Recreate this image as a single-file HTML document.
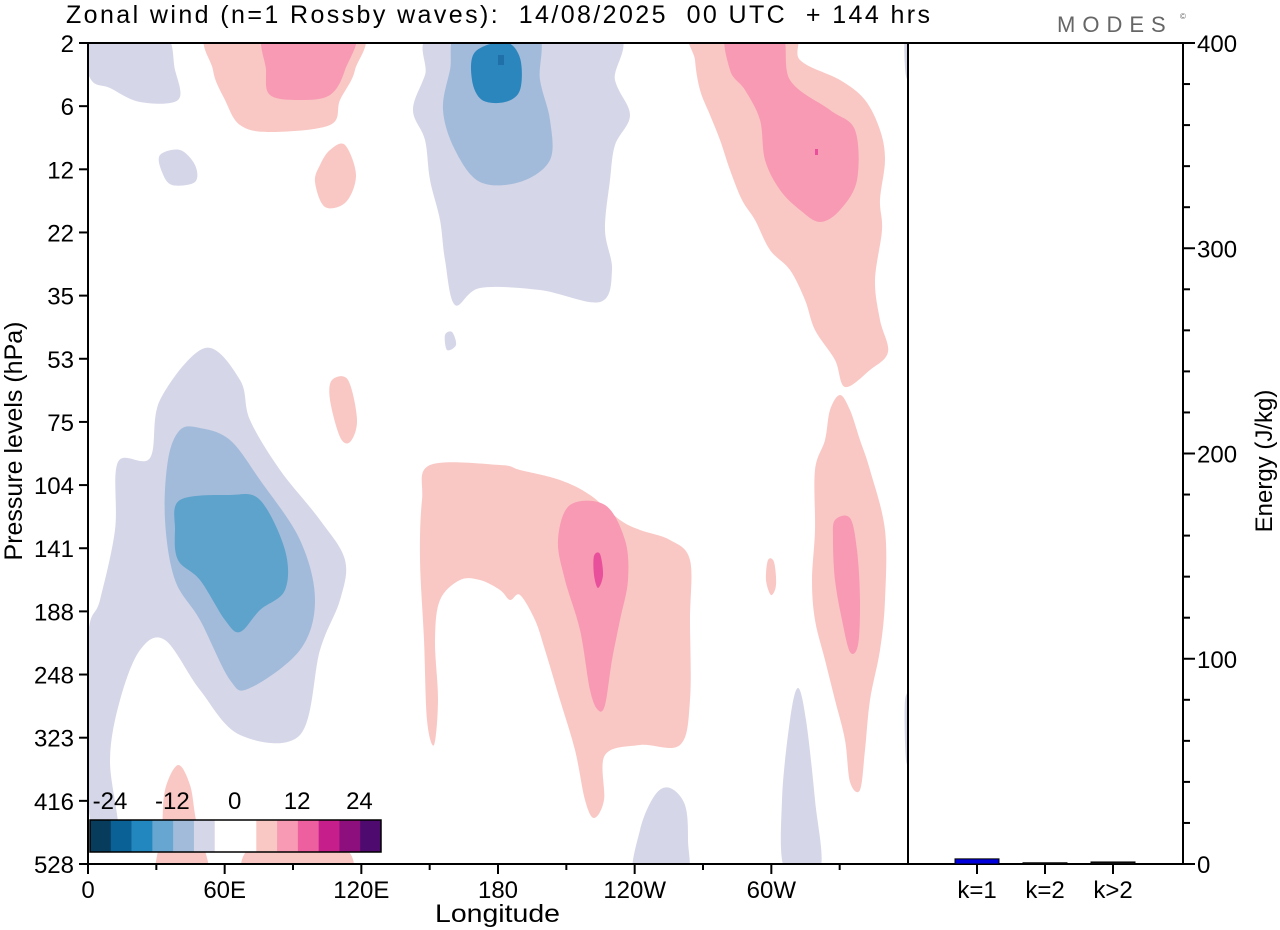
<!DOCTYPE html>
<html><head><meta charset="utf-8"><style>
body{margin:0;background:#fff;}
svg{display:block;font-family:"Liberation Sans",Arial,sans-serif;}
text{white-space:pre;}
</style></head><body>
<svg id="chart" width="1280" height="930" viewBox="0 0 1280 930">
<text x="66" y="23" font-size="25" textLength="864" lengthAdjust="spacing">Zonal wind (n=1 Rossby waves):  14/08/2025  00 UTC  + 144 hrs</text>
<text x="1057" y="32" font-size="22" fill="#666" letter-spacing="7">MODES</text>
<text x="1180" y="19" font-size="8" fill="#666">©</text>
<clipPath id="pc"><rect x="88" y="43" width="820" height="821"/></clipPath>
<g id="contours" clip-path="url(#pc)"></g>
<g id="axes"></g>
<g id="legend"></g>
<g id="bars"></g>
</svg>
<script>
const levels=["2","6","12","22","35","53","75","104","141","188","248","323","416","528"];
const lonTicks=[0,60,120,180,240,300];
const lonLabels=["0","60E","120E","180","120W","60W"];
const energyTicks=[0,100,200,300,400];
const barCats=["k=1","k=2","k>2"];
const barValues=[2.5,0.6,1.0];
const barColors=["#0000dd","#111","#111"];
const legendColors=["#083c5c","#0a6196","#2387bf","#66a6d0","#a2bbda","#d5d6e8","#ffffff","#ffffff","#f9c8c4","#f89ab4","#ee5fa0","#c61f8c","#8d0f7d","#4e0a6e"];
const legendLabels=["-24","-12","0","12","24"];

const X0=88,X1=908,Y0=43,Y1=864,EX0=908,EX1=1183;
const xLon=l=>X0+l*(X1-X0)/360;
const yLev=i=>Y0+i*(Y1-Y0)/13;
const yE=v=>Y1-v*(Y1-Y0)/400;
const NS="http://www.w3.org/2000/svg";
function mk(tag,attrs,parent,text){const e=document.createElementNS(NS,tag);for(const k in attrs)e.setAttribute(k,attrs[k]);if(text!==undefined)e.textContent=text;parent.appendChild(e);return e;}

const L1="#d5d6e8",L2="#a2bbda",L3="#5ea3cb",L4="#2b86bd",P1="#f9c8c4",P2="#f89ab4",P3="#e8509b";
const blobs=[
[L1,[[88,640],[100,600],[115,530],[118,462],[150,458],[160,400],[205,348],[240,380],[250,420],[280,470],[320,520],[345,560],[340,600],[320,650],[300,735],[240,735],[200,690],[165,640],[140,650],[120,700],[110,760],[118,830],[100,835],[88,800]]],
[L2,[[180,430],[200,428],[230,440],[260,480],[300,540],[315,600],[300,650],[250,688],[230,680],[200,620],[175,580],[165,520],[168,460]]],
[L3,[[180,500],[230,495],[260,500],[285,550],[285,590],[260,610],[240,632],[225,620],[200,580],[178,560],[175,530]]],
[L1,[[160,155],[180,150],[195,165],[195,182],[172,185],[162,172]]],
[L1,[[80,30],[160,30],[175,70],[178,100],[140,102],[110,88],[90,78]]],
[L1,[[905,30],[915,30],[915,80],[906,76]]],
[L1,[[440,30],[610,30],[615,80],[630,115],[615,145],[610,180],[605,230],[612,270],[600,302],[540,290],[480,288],[455,305],[445,260],[440,220],[430,180],[425,140],[413,110],[425,75]]],
[L2,[[460,30],[535,30],[540,80],[550,120],[550,160],[520,182],[480,182],[455,150],[443,110],[450,70]]],
[L4,[[475,52],[505,42],[520,58],[520,90],[505,102],[482,100],[472,80]]],
[L1,[[445,335],[452,332],[456,345],[447,350]]],
[P1,[[215,30],[355,30],[355,70],[340,100],[330,125],[270,132],[240,125],[225,100],[213,70]]],
[P2,[[268,30],[352,30],[345,70],[330,95],[300,100],[270,95],[266,70]]],
[P1,[[330,150],[345,145],[356,175],[346,202],[325,207],[315,182],[320,165]]],
[P1,[[695,30],[790,30],[800,60],[840,80],[865,100],[880,130],[885,160],[880,200],[882,230],[875,280],[880,320],[888,352],[870,370],[845,387],[835,360],[815,330],[805,300],[790,270],[770,250],[755,220],[742,200],[730,170],[720,140],[710,115],[700,90],[695,60]]],
[P2,[[728,30],[780,30],[790,80],[830,110],[855,130],[857,180],[840,210],[820,222],[800,210],[780,190],[765,160],[760,120],[745,90],[730,70]]],
[P1,[[332,380],[348,380],[357,420],[350,442],[340,437],[330,400]]],
[P1,[[430,465],[500,465],[520,470],[560,480],[590,495],[620,520],[640,530],[670,540],[690,560],[690,620],[690,700],[680,745],[640,745],[605,755],[604,800],[594,818],[585,800],[575,750],[560,700],[545,650],[535,620],[520,595],[510,600],[500,590],[480,580],[460,580],[440,600],[435,640],[438,700],[434,745],[427,720],[424,640],[420,560],[422,500]]],
[P2,[[570,505],[605,505],[625,540],[628,580],[620,620],[612,660],[605,705],[598,710],[590,690],[580,630],[565,580],[558,540]]],
[P3,[[594,556],[600,554],[603,575],[598,588],[594,575]]],
[P1,[[840,395],[850,410],[860,440],[870,470],[885,530],[885,600],[880,650],[870,700],[865,750],[860,790],[850,782],[845,740],[835,700],[825,660],[815,620],[812,580],[815,530],[815,470],[825,440],[830,410]]],
[P2,[[835,520],[850,518],[857,550],[860,600],[858,645],[850,652],[842,620],[835,580],[833,540]]],
[P1,[[768,560],[774,562],[776,585],[771,595],[766,580]]],
[P1,[[165,790],[178,765],[190,785],[196,820],[208,880],[158,880],[162,830]]],
[P1,[[255,845],[340,845],[345,880],[250,880]]],
[L1,[[635,880],[640,830],[655,795],[670,788],[685,805],[688,840],[685,880]]],
[L1,[[785,870],[782,800],[790,720],[798,688],[806,720],[815,800],[820,870]]],
[L1,[[905,700],[912,700],[912,760],[906,760]]]
];
function smooth(p){let d=`M${p[0][0]},${p[0][1]}`;const n=p.length;for(let i=0;i<n;i++){const a=p[(i-1+n)%n],b=p[i],c=p[(i+1)%n],e=p[(i+2)%n];d+=`C${b[0]+(c[0]-a[0])/6},${b[1]+(c[1]-a[1])/6} ${c[0]-(e[0]-b[0])/6},${c[1]-(e[1]-b[1])/6} ${c[0]},${c[1]}`;}return d+"Z";}
const cg=document.getElementById('contours');
blobs.forEach(b=>{const el=mk('path',{d:smooth(b[1]),fill:b[0]},cg);

});
mk('rect',{x:815,y:149,width:3,height:6,fill:P3},cg);
mk('rect',{x:498,y:55,width:6,height:10,fill:"#1f6fa8"},cg);

const ax=document.getElementById('axes');
const st={stroke:"#000","stroke-width":2};
mk('rect',{x:X0,y:Y0,width:EX1-X0,height:Y1-Y0,fill:"none",stroke:"#000","stroke-width":2},ax);
mk('line',{x1:X1,y1:Y0,x2:X1,y2:Y1,...st},ax);
levels.forEach((l,i)=>{const y=yLev(i);mk('line',{x1:X0-9,y1:y,x2:X0,y2:y,...st},ax);
const t=mk('text',{x:X0-14,y:y+9,"font-size":24,"text-anchor":"end"},ax,l);

});
for(let l=30;l<360;l+=60){const x=xLon(l);mk('line',{x1:x,y1:Y1,x2:x,y2:Y1+6,...st},ax);}
lonTicks.forEach((l,i)=>{const x=xLon(l);mk('line',{x1:x,y1:Y1,x2:x,y2:Y1+10,...st},ax);
const t=mk('text',{x:x,y:Y1+34,"font-size":24,"text-anchor":"middle"},ax,lonLabels[i]);

});
mk('text',{x:435,y:922,"font-size":25,textLength:125,lengthAdjust:"spacingAndGlyphs",},ax,"Longitude");
mk('text',{x:22,y:441,"font-size":25,"text-anchor":"middle",transform:"rotate(-90 22 441)",},ax,"Pressure levels (hPa)");
for(let v=0;v<=400;v+=20){const y=yE(v);const maj=v%100===0;mk('line',{x1:EX1,y1:y,x2:EX1+(maj?12:7),y2:y,...st},ax);}
energyTicks.forEach(v=>{const t=mk('text',{x:EX1+14,y:yE(v)+9,"font-size":24},ax,String(v));

});
mk('text',{x:1272,y:461,"font-size":24,"text-anchor":"middle",transform:"rotate(-90 1272 461)",},ax,"Energy (J/kg)");

const bg=document.getElementById('bars');
barCats.forEach((c,i)=>{const cx=977+i*68;const h=Y1-yE(barValues[i]);
const r=mk('rect',{x:cx-22,y:Y1-h,width:44,height:h,fill:barColors[i],stroke:"#000","stroke-width":1},bg);


mk('line',{x1:cx,y1:Y1,x2:cx,y2:Y1+10,...st},bg);
const t=mk('text',{x:cx,y:Y1+34,"font-size":24,"text-anchor":"middle"},bg,c);

});

const lg=document.getElementById('legend');
const cw=291/legendColors.length;
legendColors.forEach((c,i)=>{const r=mk('rect',{x:90+i*cw,y:820,width:cw+0.3,height:32,fill:c},lg);

});
mk('rect',{x:90,y:820,width:291,height:32,fill:"none",stroke:"#000","stroke-width":1.5},lg);
legendLabels.forEach((l,i)=>{const t=mk('text',{x:110+i*cw*3,y:809,"font-size":24,"text-anchor":"middle"},lg,l);

});
</script>
</body></html>
